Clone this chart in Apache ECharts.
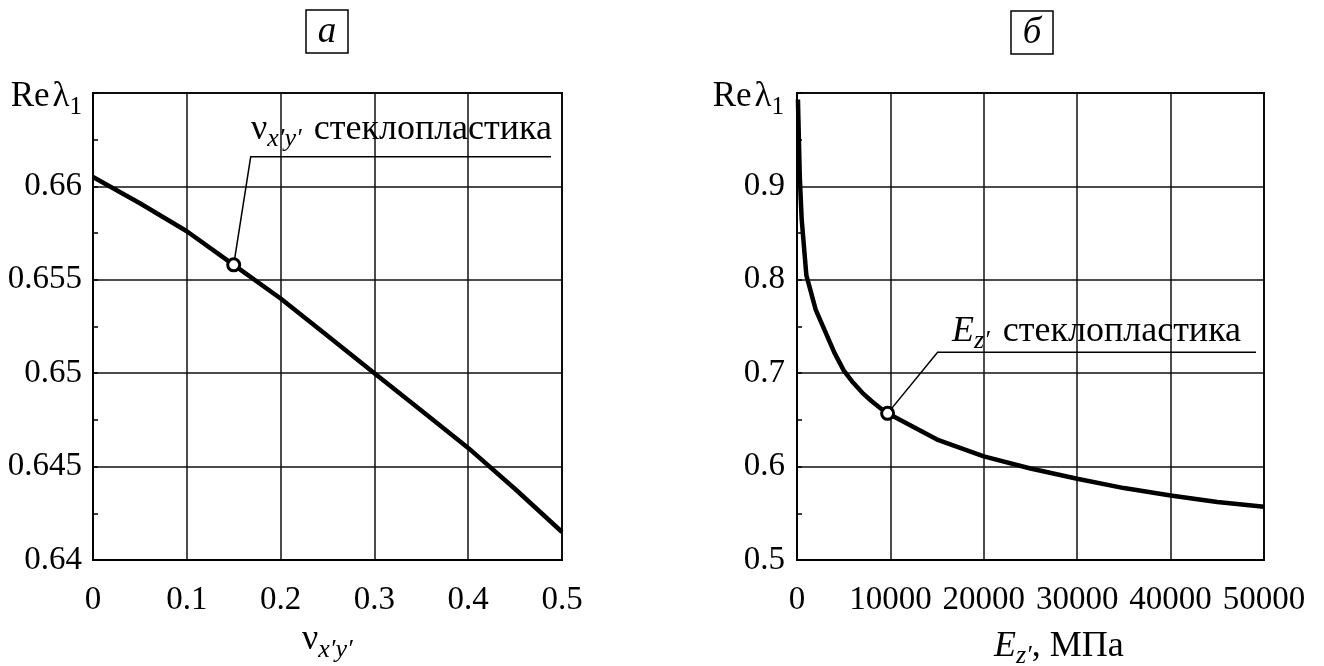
<!DOCTYPE html>
<html><head><meta charset="utf-8">
<script src="https://cdn.jsdelivr.net/npm/echarts@6/dist/echarts.min.js"></script>
<style>html,body{margin:0;padding:0;background:#fff}#c{width:1324px;height:666px}</style>
</head><body><div id="c"></div>
<script>
// ---- data ----
const nuX = [0, 0.05, 0.1, 0.15, 0.2, 0.25, 0.3, 0.35, 0.4, 0.45, 0.5];
const nuRe = [0.6605, 0.6591, 0.6576, 0.6558, 0.6540, 0.6520, 0.6500, 0.6480, 0.6460, 0.6438, 0.6415];
const nuMarker = [0.15, 0.6558];
const nuTicksX = [0, 0.1, 0.2, 0.3, 0.4, 0.5];
const nuTicksY = [0.64, 0.645, 0.65, 0.655, 0.66];

const eX = [100, 300, 500, 1000, 2000, 3000, 4000, 5000, 6000, 7000, 8000, 9000, 10000, 15000, 20000, 25000, 30000, 35000, 40000, 45000, 50000];
const eRe = [0.993, 0.91, 0.865, 0.805, 0.768, 0.745, 0.722, 0.703, 0.690, 0.679, 0.670, 0.662, 0.6555, 0.629, 0.611, 0.598, 0.587, 0.577, 0.569, 0.562, 0.557];
const eMarker = [9700, 0.657];
const eTicksX = [0, 10000, 20000, 30000, 40000, 50000];
const eTicksY = [0.5, 0.6, 0.7, 0.8, 0.9];

const FONT = '"Liberation Serif","Times New Roman",serif';
const TICK = 33;
const chart = echarts.init(document.getElementById('c'), null, {renderer: 'canvas'});

function axisCommon() {
  return {
    axisLine: {show: true, lineStyle: {color: '#000', width: 2}},
    splitLine: {show: true, lineStyle: {color: '#111', width: 1.5}}
  };
}
function fmt(list, d) {
  return v => {
    const r = +(+v).toFixed(d);
    return list.some(t => Math.abs(t - r) < 1e-9) ? String(r) : '';
  };
}

const option = {
  animation: false,
  backgroundColor: '#fff',
  grid: [
    {left: 93, top: 93, width: 469, height: 467, show: true, borderColor: '#000', borderWidth: 2, containLabel: false},
    {left: 797, top: 93, width: 467, height: 467, show: true, borderColor: '#000', borderWidth: 2, containLabel: false}
  ],
  xAxis: [
    Object.assign(axisCommon(), {type: 'value', gridIndex: 0, min: 0, max: 0.5, interval: 0.1,
      axisTick: {show: false},
      axisLabel: {color: '#000', fontFamily: FONT, fontSize: TICK, margin: 24, formatter: fmt(nuTicksX, 2)}}),
    Object.assign(axisCommon(), {type: 'value', gridIndex: 1, min: 0, max: 50000, interval: 10000,
      axisTick: {show: false},
      axisLabel: {color: '#000', fontFamily: FONT, fontSize: TICK, margin: 24, formatter: fmt(eTicksX, 0)}})
  ],
  yAxis: [
    Object.assign(axisCommon(), {type: 'value', gridIndex: 0, min: 0.64, max: 0.665, interval: 0.005,
      axisTick: {show: true, inside: true, length: 5, lineStyle: {color: '#000', width: 1.5}},
      minorTick: {show: true, splitNumber: 2, length: 5, lineStyle: {color: '#000', width: 1.5}},
      axisLabel: {color: '#000', fontFamily: FONT, fontSize: TICK, margin: 11, formatter: fmt(nuTicksY, 3)}}),
    Object.assign(axisCommon(), {type: 'value', gridIndex: 1, min: 0.5, max: 1.0, interval: 0.1,
      axisTick: {show: true, inside: true, length: 5, lineStyle: {color: '#000', width: 1.5}},
      minorTick: {show: true, splitNumber: 2, length: 5, lineStyle: {color: '#000', width: 1.5}},
      axisLabel: {color: '#000', fontFamily: FONT, fontSize: TICK, margin: 12, formatter: fmt(eTicksY, 1)}})
  ],
  series: [
    {type: 'line', xAxisIndex: 0, yAxisIndex: 0, data: nuX.map((x, i) => [x, nuRe[i]]),
      showSymbol: false, lineStyle: {color: '#000', width: 4.5}, z: 3, clip: true},
    {type: 'scatter', xAxisIndex: 0, yAxisIndex: 0, data: [nuMarker], symbol: 'circle', symbolSize: 12,
      itemStyle: {color: '#fff', borderColor: '#000', borderWidth: 3, opacity: 1}, z: 5},
    {type: 'line', xAxisIndex: 1, yAxisIndex: 1, data: eX.map((x, i) => [x, eRe[i]]),
      showSymbol: false, lineStyle: {color: '#000', width: 4.5}, z: 3, clip: true},
    {type: 'scatter', xAxisIndex: 1, yAxisIndex: 1, data: [eMarker], symbol: 'circle', symbolSize: 12,
      itemStyle: {color: '#fff', borderColor: '#000', borderWidth: 3, opacity: 1}, z: 5}
  ]
};
chart.setOption(option);

// ---- text helper (runs of normal / subscript text) ----
const mctx = document.createElement('canvas').getContext('2d');
function fontStr(p) { return (p.i ? 'italic ' : '') + p.s + 'px ' + FONT; }
function run(x, base, parts, align) {
  let w = 0;
  const ws = parts.map(p => { mctx.font = fontStr(p); const v = mctx.measureText(p.t).width + (p.g || 0); w += v; return v; });
  let cx = align === 'center' ? x - w / 2 : align === 'right' ? x - w : x;
  const els = [];
  parts.forEach((p, k) => {
    els.push({type: 'text', x: cx, y: base + (p.dy || 0) - 0.3 * p.s, z: 10,
      style: {text: p.t, font: fontStr(p), fill: '#000', align: 'left', verticalAlign: 'middle'}});
    cx += ws[k];
  });
  return els;
}

const g = [];
// panel labels
g.push({type: 'rect', shape: {x: 306, y: 10, width: 42, height: 43}, style: {fill: 'none', stroke: '#000', lineWidth: 1.5}});
g.push({type: 'rect', shape: {x: 1011, y: 11, width: 42, height: 43}, style: {fill: 'none', stroke: '#000', lineWidth: 1.5}});
g.push(...run(327, 43, [{t: 'а', s: 37, i: true}], 'center'));
g.push(...run(1032, 44, [{t: 'б', s: 37, i: true}], 'center'));
// y axis names
g.push(...run(82, 107, [{t: 'Re', s: 35, g: 3}, {t: 'λ', s: 35}, {t: '1', s: 25, dy: 8}], 'right'));
g.push(...run(784, 107, [{t: 'Re', s: 35, g: 3}, {t: 'λ', s: 35}, {t: '1', s: 25, dy: 8}], 'right'));
// x axis names
g.push(...run(302, 650, [{t: 'ν', s: 36}, {t: 'x′y′', s: 26, i: true, dy: 8}], 'left'));
g.push(...run(994, 657, [{t: 'E', s: 36, i: true}, {t: 'z′', s: 26, i: true, dy: 7}, {t: ', МПа', s: 36}], 'left'));
// annotations
g.push(...run(251, 140, [{t: 'ν', s: 36}, {t: 'x′y′', s: 26, i: true, dy: 7, g: 3}, {t: ' стеклопластика', s: 36}], 'left'));
g.push(...run(952, 342, [{t: 'E', s: 36, i: true}, {t: 'z′', s: 26, i: true, dy: 7, g: 4}, {t: ' стеклопластика', s: 36}], 'left'));

// leader lines anchored on the markers
const pL = chart.convertToPixel({seriesIndex: 1}, nuMarker);
const pR = chart.convertToPixel({seriesIndex: 3}, eMarker);
g.push({type: 'polyline', shape: {points: [pL, [pL[0] + 17, pL[1] - 108], [551, pL[1] - 108]]},
  style: {stroke: '#000', lineWidth: 1.5, fill: null}});
g.push({type: 'polyline', shape: {points: [pR, [pR[0] + 50, pR[1] - 61], [1256, pR[1] - 61]]},
  style: {stroke: '#000', lineWidth: 1.5, fill: null}});

chart.setOption({graphic: {elements: g}});
</script>
</body></html>
